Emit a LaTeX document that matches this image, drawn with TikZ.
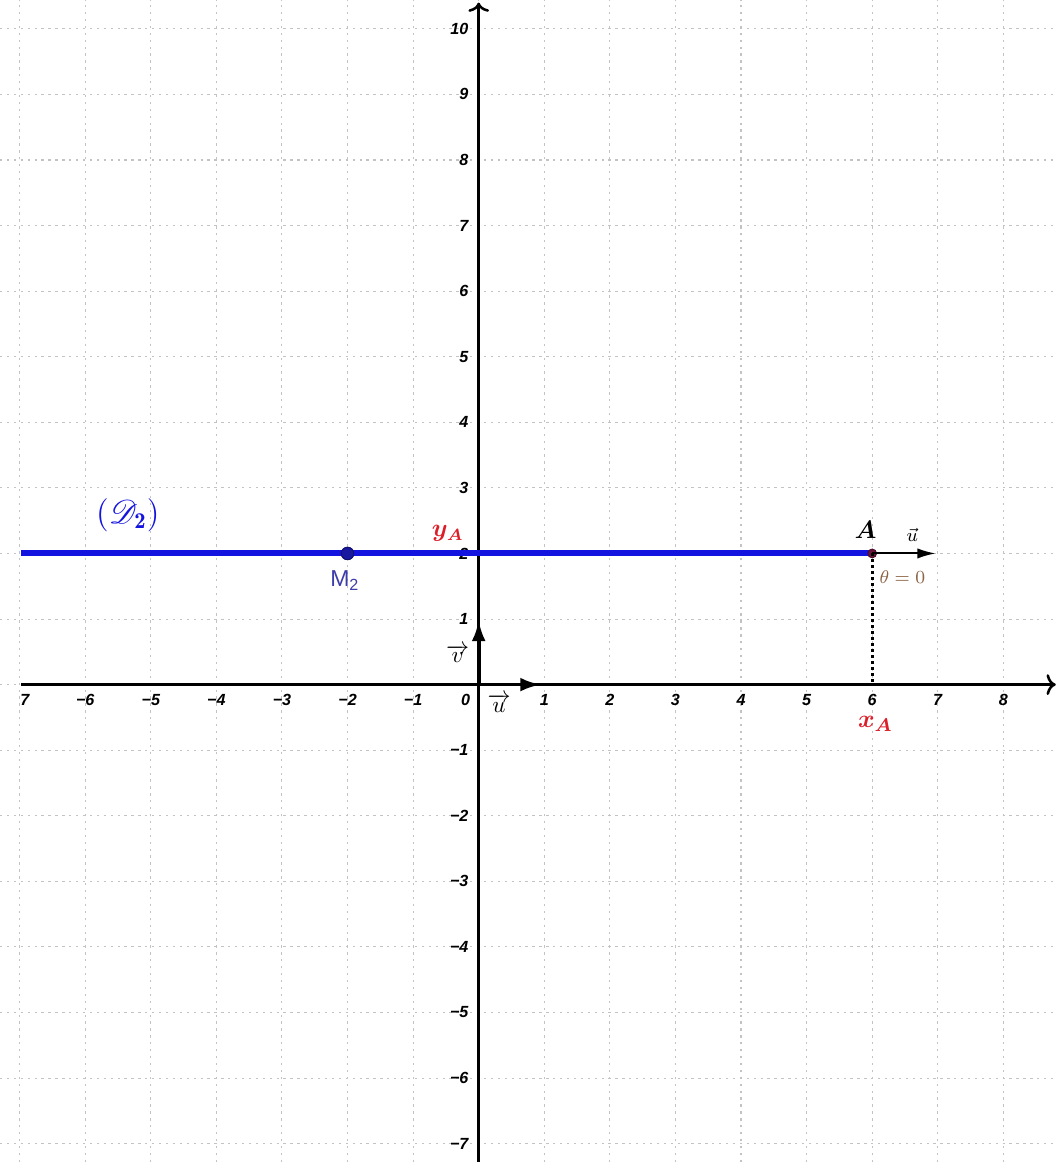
\documentclass[tikz,border=0pt]{standalone}
\usepackage{fontspec}
\usepackage{amsmath,bm}
\usepackage{mathrsfs}
\newfontfamily\axfont{Liberation Sans}
\usetikzlibrary{arrows.meta}
\definecolor{gridgray}{RGB}{195,195,195}
\definecolor{lineblue}{RGB}{20,20,225}
\definecolor{ptblue}{RGB}{25,25,160}
\definecolor{mlabel}{RGB}{60,60,170}
\definecolor{labred}{RGB}{220,30,40}
\definecolor{thetabrown}{RGB}{140,100,70}
\definecolor{ptA}{RGB}{110,20,60}
\begin{document}
\begin{tikzpicture}[x=1cm,y=1cm,
  gridline/.style={gridgray, line width=0.45pt, dash pattern=on 1pt off 2pt},
  axisline/.style={line width=1.1pt, -{To[length=4pt,width=9pt,line width=1.1pt]}},
  ticklab/.style={font=\axfont\bfseries\itshape\fontsize{7}{8}\selectfont, inner sep=0pt},
  vecarrow/.style={line width=1.6pt, -{Latex[length=9pt,width=6pt]}},
  dotpt/.style={circle, inner sep=0pt},
  lab/.style={inner sep=0pt}
]
\useasboundingbox (-7.30,-7.28) rectangle (8.81,10.44);
% grid
\foreach \i in {-7,...,8} \draw[gridline] (\i,-7.28) -- (\i,10.44);
\foreach \j in {-7,...,10} \draw[gridline] (-7.30,\j) -- (8.81,\j);
% axes
\coordinate (xs) at (-6.98,0);
\coordinate (xe) at (8.80,0);
\coordinate (ys) at (0,-7.28);
\coordinate (ye) at (0,10.40);
\draw[axisline] (xs) -- (xe);
\draw[axisline] (ys) -- (ye);
% x tick labels
\node[ticklab] (xlm7) at (-6.92,-0.24) {7};
\foreach \i/\t in {-6/−6,-5/−5,-4/−4,-3/−3,-2/−2,-1/−1,1/1,2/2,3/3,4/4,5/5,6/6,7/7,8/8}
  \node[ticklab] (xl\i) at (\i,-0.24) {\t};
\node[ticklab] (xl0) at (-0.2,-0.24) {0};
% y tick labels
\foreach \j/\t in {1/1,2/2,3/3,4/4,5/5,6/6,7/7,8/8,9/9,10/10,-1/−1,-2/−2,-3/−3,-4/−4,-5/−5,-6/−6,-7/−7}
  \node[ticklab, anchor=east] (yl\j) at (-0.15,\j) {\t};
% base vectors
\coordinate (O) at (0,0);
\coordinate (Ou) at (0.95,0);
\coordinate (Ov) at (0,0.98);
\draw[vecarrow] (O) -- (Ou);
\draw[vecarrow] (O) -- (Ov);
\node[lab, font=\fontsize{10}{12}\selectfont] (vlab) at (-0.32,0.47) {$\overrightarrow{v}$};
\node[lab, font=\fontsize{10}{12}\selectfont] (ulab) at (0.31,-0.29) {$\overrightarrow{u}$};
% points
\node[dotpt, fill=ptA, draw=ptA!70!black, minimum size=0.13cm] (A) at (6,2) {};
\node[dotpt, fill=ptblue, draw=ptblue!70!black, minimum size=0.19cm] (M2) at (-2,2) {};
% line D2
\coordinate (Dl) at (-6.98,2);
\draw[lineblue, line width=2.6pt] (Dl) -- (A.center);
\node[dotpt, fill=ptblue, draw=ptblue!70!black, minimum size=0.19cm] at (M2) {};
\node[dotpt, fill=ptA, draw=ptA!70!black, minimum size=0.13cm] at (A) {};
% dotted projection
\coordinate (Ax) at (6,0);
\draw[line width=1.3pt, dash pattern=on 1.2pt off 1.4pt] (A.center) -- (Ax);
% vector u at A
\coordinate (Au) at (6.97,2);
\draw[line width=0.9pt, -{Latex[length=8pt,width=4.5pt]}] (A.center) -- (Au);
% labels
\node[lab, text=lineblue, font=\fontsize{14}{16}\selectfont] (D2lab) at (-5.35,2.58) {$(\mathscr{D}_{\mathbf{2}})$};
\node[lab, text=mlabel, font=\axfont\fontsize{10}{12}\selectfont] (M2lab) at (-2.04,1.59) {M\textsubscript{2}};
\node[lab, text=labred, font=\fontsize{10.5}{12}\selectfont] (yAlab) at (-0.47,2.31) {$\bm{y_A}$};
\node[lab, font=\fontsize{10.5}{12}\selectfont] (Alab) at (5.90,2.36) {$\bm{A}$};
\node[lab, font=\fontsize{8}{10}\selectfont] (uAlab) at (6.61,2.28) {$\vec{u}$};
\node[lab, text=thetabrown, font=\fontsize{8.5}{10}\selectfont] (thlab) at (6.46,1.64) {$\theta=0$};
\node[lab, text=labred, font=\fontsize{11}{13}\selectfont] (xAlab) at (6.05,-0.60) {$\bm{x_A}$};
\end{tikzpicture}
\end{document}
